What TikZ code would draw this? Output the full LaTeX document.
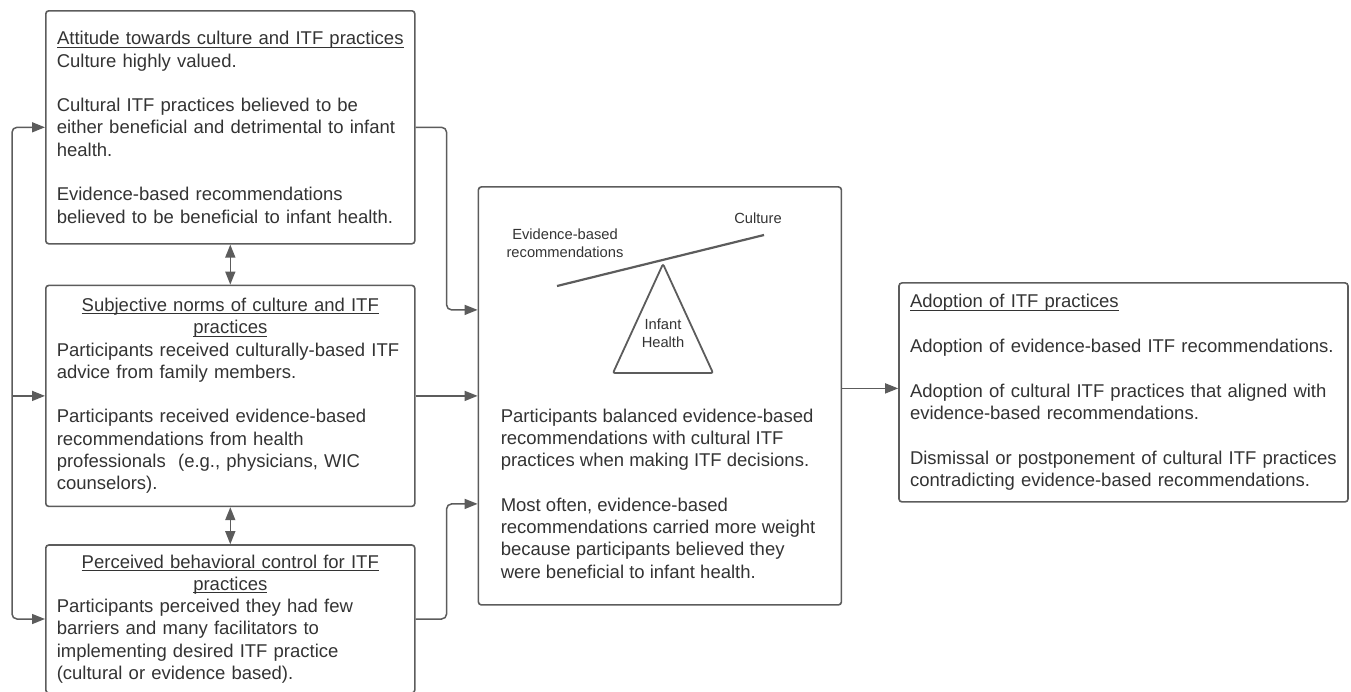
\documentclass[tikz,border=0pt]{standalone}
\usepackage{fontspec}
\setmainfont{Liberation Sans}
\usetikzlibrary{positioning}
\usetikzlibrary{calc}
\usetikzlibrary{arrows.meta}
\definecolor{linegray}{HTML}{5C5C5C}
\definecolor{textgray}{HTML}{333333}
\newcommand{\bodyfont}{\fontsize{18.5}{22.3}\selectfont}
\newcommand{\smallfont}{\fontsize{14.7}{18}\selectfont}
\newsavebox{\undlbox}
\newcommand{\undl}[1]{\sbox{\undlbox}{#1}\rlap{\rule[-3pt]{\wd\undlbox}{1pt}}\usebox{\undlbox}}
\tikzset{
box/.style={
  rectangle,
  rounded corners=3pt,
  draw=linegray,
  line width=1.6pt,
  inner xsep=11pt,
  inner ysep=0pt,
  align=left,
  text=textgray,
  font=\bodyfont
  },
tag/.style={
  inner sep=0pt,
  align=center,
  text=textgray,
  font=\smallfont
  }
}

\begin{document}
\begin{tikzpicture}[x=1pt,y=-1pt,->,>={Triangle[length=13pt,width=10pt]},color=linegray,line width=1.5pt]
            \useasboundingbox (0,0) rectangle (1351,691);
            % left column
            \node[box,text width=347pt,minimum height=233pt,anchor=north west] (att) at (45,10) {%
              \makebox[347pt]{\undl{Attitude towards culture and ITF practices}}\\
              Culture highly valued.\\[22.3pt]
              Cultural ITF practices believed to be\\
              either beneficial and detrimental to infant\\
              health.\\[22.3pt]
              Evidence-based recommendations\\
              believed to be beneficial to infant health.};
            \node[box,text width=347pt,minimum height=221pt] (norm) [below=40pt of att] {%
              \makebox[347pt]{\undl{Subjective norms of culture and ITF}}\\
              \makebox[347pt]{\undl{practices}}\\
              Participants received culturally-based ITF\\
              advice from family members.\\[22.3pt]
              Participants received evidence-based\\
              recommendations from health\\
              professionals\ \ (e.g., physicians, WIC\\
              counselors).};
            \node[box,text width=347pt,minimum height=148pt] (ctrl) [below=37pt of norm] {%
              \makebox[347pt]{\undl{Perceived behavioral control for ITF}}\\
              \makebox[347pt]{\undl{practices}}\\
              Participants perceived they had few\\
              barriers and many facilitators to\\
              implementing desired ITF practice\\
              (cultural or evidence based).};
            % balance
            \node[box,minimum width=363pt,minimum height=418pt] (bal) [right=62pt of norm] {};
            \node[anchor=north west,align=left,inner sep=0pt,text=textgray,font=\bodyfont] (baltxt) at (500,408) {%
              Participants balanced evidence-based\\
              recommendations with cultural ITF\\
              practices when making ITF decisions.\\[22.3pt]
              Most often, evidence-based\\
              recommendations carried more weight\\
              because participants believed they\\
              were beneficial to infant health.};
            \coordinate (plankl) at (557,286);
            \coordinate (plankr) at (764,235);
            \coordinate (apex) at (663,264);
            \draw[-,line width=2.2pt] (plankl) -- (plankr);
            \draw[-,line width=1.8pt,rounded corners=2pt] (apex) -- (713,373) -- (613,373) -- cycle;
            \node[tag] (culture) at (758,218) {Culture};
            \node[tag] (evid) at (565,243) {Evidence-based\\recommendations};
            \node[tag] (infant) at (663,333) {Infant\\Health};
            % outcome
            \node[box,text width=427pt,minimum height=219pt,yshift=3.5pt] (adopt) [right=56pt of bal] {%
              \undl{Adoption of ITF practices}\\[22.3pt]
              Adoption of evidence-based ITF recommendations.\\[22.3pt]
              Adoption of cultural ITF practices that aligned with\\
              evidence-based recommendations.\\[22.3pt]
              Dismissal or postponement of cultural ITF practices\\
              contradicting evidence-based recommendations.};
            % connectors
            \coordinate (trunk) at ([xshift=-33pt]norm.west);
            \coordinate (in1) at ([yshift=86pt]bal.west);
            \coordinate (in3) at ([yshift=-108pt]bal.west);
            \draw[rounded corners=5pt] (trunk) |- (att.west);
            \draw[rounded corners=5pt] (trunk) |- (ctrl.west);
            \draw (trunk) -- (norm.west);
            \draw[<->] (att.south) -- (norm.north);
            \draw[<->] (norm.south) -- (ctrl.north);
            \draw[rounded corners=5pt] (att.east) -- ++(31,0) |- (in1);
            \draw (norm.east) -- (bal.west);
            \draw[rounded corners=5pt] (ctrl.east) -- ++(31,0) |- (in3);
            \draw ([yshift=4pt]adopt.west -| bal.east) -- ([yshift=4pt]adopt.west);
        \end{tikzpicture}
\end{document}
